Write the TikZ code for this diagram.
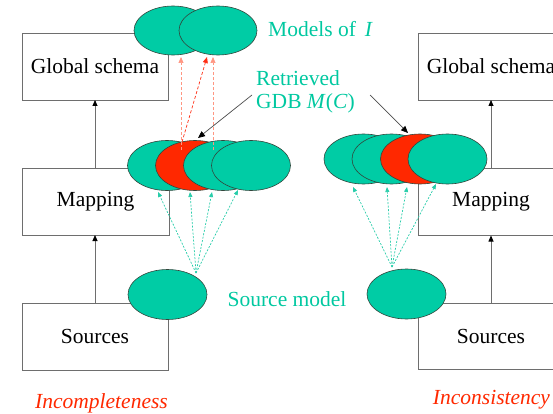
\documentclass[tikz,border=0pt]{standalone}
\usepackage{fontspec}
\setmainfont{Liberation Serif}
\usetikzlibrary{shapes.geometric,arrows.meta}
\definecolor{tealfill}{RGB}{0,204,165}
\definecolor{tealtext}{RGB}{0,200,160}
\definecolor{redfill}{RGB}{255,40,0}
\definecolor{salmon}{RGB}{255,150,130}
\definecolor{reddash}{RGB}{255,45,20}
\definecolor{tealdash}{RGB}{40,205,170}
\definecolor{boxline}{RGB}{110,110,110}
\definecolor{ellline}{RGB}{50,70,60}
\tikzset{
  box/.style={draw=boxline, line width=0.8pt, minimum width=146pt, minimum height=67pt, inner sep=0pt, outer sep=0pt, fill=white},
  lbl/.style={font=\fontsize{21.5}{23}\selectfont, inner sep=0pt},
  ell/.style={ellipse, draw=ellline, line width=0.6pt, fill=tealfill, minimum width=79pt, minimum height=50pt, inner sep=0pt, outer sep=0pt},
  redell/.style={ell, fill=redfill},
  uparrow/.style={draw=boxline, line width=0.8pt, -{Triangle[length=6pt,width=5pt,color=black]}},
  tealarrow/.style={draw=tealdash, line width=0.7pt, dash pattern=on 2pt off 1.5pt, -{Triangle[length=5pt,width=4pt]}},
  salmonarrow/.style={draw=salmon, line width=0.7pt, dash pattern=on 3pt off 2pt, -{Triangle[length=6pt,width=5pt]}},
  redarrow/.style={draw=reddash, line width=0.7pt, dash pattern=on 3pt off 2pt, -{Triangle[length=6pt,width=5pt]}},
  blackarrow/.style={draw=black!70, line width=0.7pt, -{Triangle[length=7pt,width=6pt,color=black]}},
}
\begin{document}
\begin{tikzpicture}[x=1pt,y=-1pt]
\useasboundingbox (0,0) rectangle (553,414);
\clip (0,0) rectangle (553,414);
% boxes
\node[box] (gs1) at (95,66.5) {};
\node[box, minimum width=147pt] (map1) at (95.5,201.5) {};
\node[box, minimum height=67pt] (src1) at (95,336.5) {};
\node[box] (gs2) at (491,66.5) {};
\node[box] (map2) at (491,202) {};
\node[box, minimum height=66pt] (src2) at (491,336) {};
\node[lbl] at (gs1) {Global schema};
\node[lbl] at (map1) {Mapping};
\node[lbl] at (src1) {Sources};
\node[lbl] at (gs2) {Global schema};
\node[lbl] at (map2) {Mapping};
\node[lbl] at (src2) {Sources};
% vertical arrows
\draw[uparrow] (src1.north) -- (map1.south -| src1.north);
\draw[uparrow] (map1.north -| src1.north) -- (gs1.south);
\draw[uparrow] (src2.north) -- (map2.south);
\draw[uparrow] (map2.north) -- (gs2.south);
% models of I
\node[ell, minimum width=78pt, minimum height=49pt] (m1) at (173,30.5) {};
\node[ell, minimum width=78pt, minimum height=49pt] (m2) at (218,30.5) {};
% left group
\node[ell] (a1) at (167,165.5) {};
\node[redell] (a2) at (195,165.5) {};
\node[ell] (a3) at (223,165.5) {};
\node[ell] (a4) at (251,165.5) {};
% right group
\node[ell] (b1) at (363.5,159) {};
\node[ell] (b2) at (391.5,159) {};
\node[redell] (b3) at (420,159) {};
\node[ell] (b4) at (447.5,159) {};
% source models
\node[ell] (s1) at (167.5,294.5) {};
\node[ell] (s2) at (406.5,294) {};
% coordinates
\coordinate (c1) at (196,273);
\coordinate (c2) at (392,267);
\coordinate (ta1) at (158,192);
\coordinate (ta2) at (190,192);
\coordinate (ta3) at (212,192);
\coordinate (ta4) at (238,190);
\coordinate (tb1) at (353,187);
\coordinate (tb2) at (387,187);
\coordinate (tb3) at (407,187);
\coordinate (tb4) at (436,184);
\foreach \t in {ta1,ta2,ta3,ta4} \draw[tealarrow] (c1) -- (\t);
\foreach \t in {tb1,tb2,tb3,tb4} \draw[tealarrow] (c2) -- (\t);
% red dashed arrows
\coordinate (p1) at (181,150);
\coordinate (p2) at (213,150);
\coordinate (p3) at (182,142);
\coordinate (q1) at (181,57);
\coordinate (q2) at (213,57);
\coordinate (q3) at (207,57);
\draw[salmonarrow] (p1) -- (q1);
\draw[salmonarrow] (p2) -- (q2);
\draw[redarrow] (p3) -- (q3);
% texts
\node[lbl, text=tealtext, anchor=west] (models) at (268,29) {Models of\, \textit{I}};
\node[lbl, text=tealtext, anchor=west, align=left] (retr) at (256,91.5) {Retrieved\\[0pt]GDB \textit{M}(\textit{C})};
\node[lbl, text=tealtext] (srcm) at (287,299) {Source model};
\node[lbl, text=redfill] (incomp) at (101.5,403) {\textit{Incompleteness}};
\node[lbl, text=redfill] (incons) at (491.5,400) {\textit{Inconsistency}};
% black arrows
\coordinate (r1) at (252,95);
\coordinate (r2) at (370,95);
\coordinate (e1) at (198,138);
\coordinate (e2) at (408,133);
\draw[blackarrow] (r1) -- (e1);
\draw[blackarrow] (r2) -- (e2);
\end{tikzpicture}
\end{document}
